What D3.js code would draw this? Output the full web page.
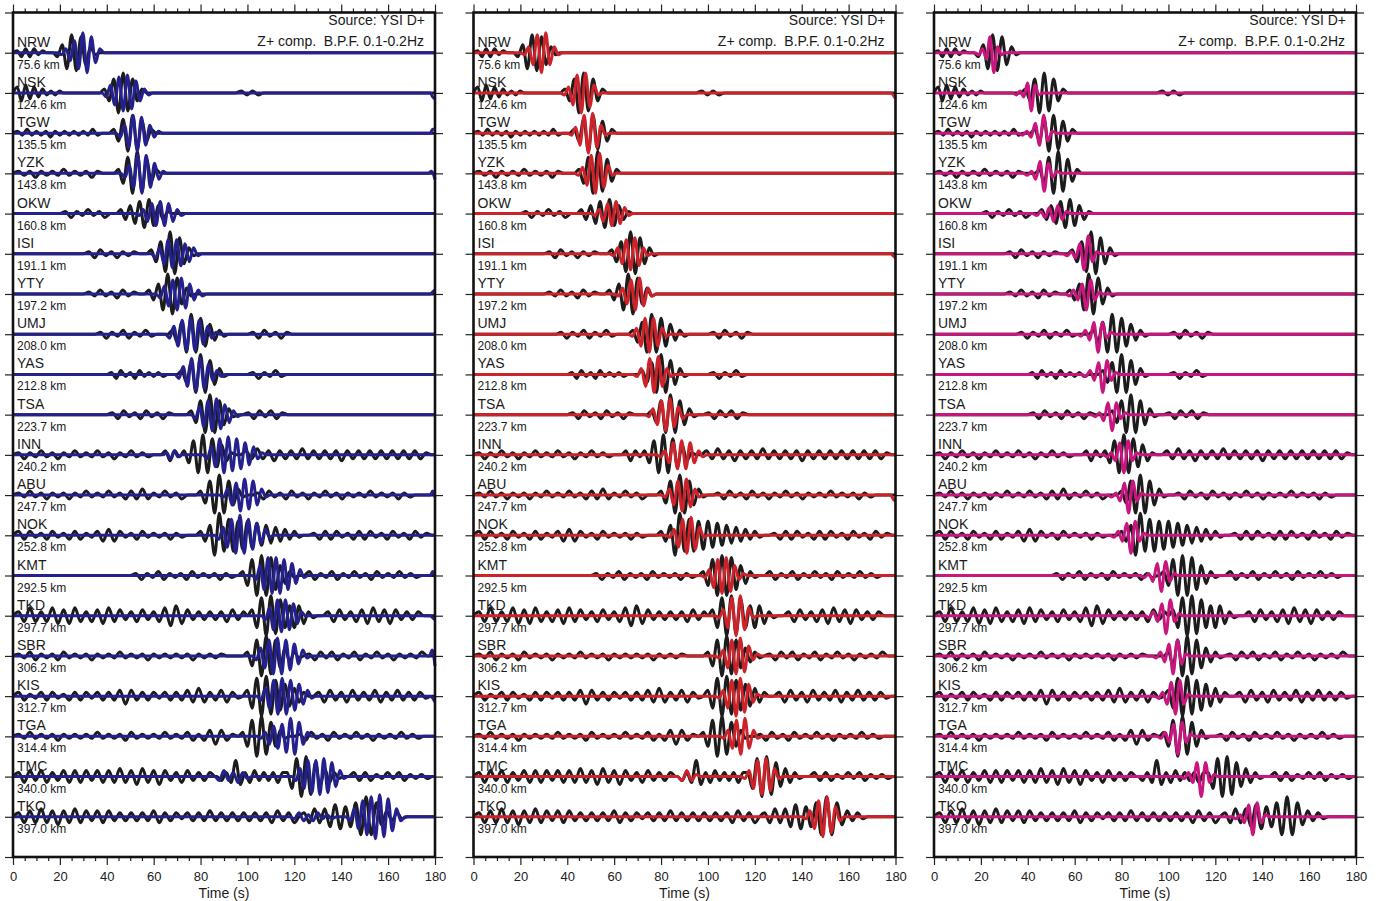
<!DOCTYPE html>
<html>
<head>
<meta charset="utf-8">
<script src="https://cdn.jsdelivr.net/npm/d3@7"></script>
<style>
  body { margin: 0; background: #fff; }
  svg { display: block; font-family: "Liberation Sans", Arial, sans-serif; }
</style>
</head>
<body>
<script>
// stations, top to bottom
const stations = ["NRW","NSK","TGW","YZK","OKW","ISI","YTY","UMJ","YAS","TSA",
                  "INN","ABU","NOK","KMT","TKD","SBR","KIS","TGA","TMC","TKO"]
const distances = [75.6,124.6,135.5,143.8,160.8,191.1,197.2,208.0,212.8,223.7,
                   240.2,247.7,252.8,292.5,297.7,306.2,312.7,314.4,340.0,397.0]

const timeTicks = [0,20,40,60,80,100,120,140,160,180]

// each trace = list of segments [start time (s), half period (s), successive peak amplitudes (x0.1)]
// observed records (black), same in all three panels
const observed = [
  [[0,1.8,[0,1,-2,2,-2,2,-1,1,0]], [17,2,[0,-2,4,-8,9,-9,8,-6,3,-1,0]]],
  [[0,1.8,[0,3,-4,4,-3,3,-2,2,-1,1,-1,1,0]], [37,2,[0,2,-4,7,-10,10,-9,7,-4,2,0]], [95,2.4,[0,1,-1,1,-1,0]]],
  [[0,2,[0,1,-1,2,-1,1,-1,1,-2,1,-1,1,-1,1,-1,1,-1,2,-1,0]], [41,2,[0,2,-4,7,-9,9,-8,6,-4,2,0]]],
  [[0,2.4,[0,1,-1,1,-2,1,-1,1,-1,2,-1,1,-1,1,-2,1,0]], [43,2,[0,2,-5,8,-10,11,-9,7,-4,2,0]]],
  [[20,2.4,[0,1,-2,1,-1,2,-1,1,-2,0]], [44,2,[0,2,-3,4,-5,6,-7,7,-6,4,-3,1,0]]],
  [[30,2.4,[0,1,-2,2,-1,1,-2,1,-1,1,0]], [57,2,[0,2,-4,6,-9,11,-10,8,-5,3,-1,0]]],
  [[30,2.4,[0,1,-1,2,-1,1,-2,2,-1,1,0]], [56,2,[0,2,-3,5,-8,10,-10,8,-5,3,-1,0]]],
  [[35,2.4,[0,1,-2,1,-1,2,-2,1,-1,2,-1,0]], [66,2,[0,2,-4,6,-9,10,-9,8,-6,5,-3,2,-1,0]], [100,2.4,[0,1,-2,2,-1,1,-2,1,0]]],
  [[40,2,[0,1,-2,2,-1,1,-2,2,-1,1,-1,1,-1,0]], [70,2,[0,2,-4,6,-9,10,-9,7,-5,3,-1,0]], [100,2.4,[0,1,-2,1,-1,2,-1,0]]],
  [[40,2.4,[0,1,-2,2,-1,1,-2,2,-1,1,-2,1,0]], [74,2,[0,2,-4,7,-9,10,-9,7,-5,3,-1,0]], [98,2.4,[0,1,-2,2,-1,2,-2,1,0]]],
  [[0,2.4,[0,1,-2,1,-1,2,-1,1,-2,1,-1,2,-1,1,-1,2,-1,1,-2,1,-1,2,-1,1,-1,0]],
   [63,2,[0,2,-3,2,-1,2,-4,7,-9,10,-9,8,-6,5,-3,1,0]],
   [97,2.4,[0,2,-2,3,-2,2,-3,2,-2,2,-2,3,-2,2,-2,2,-2,2,-3,2,-2,2,-2,2,-2,2,-2,2,-2,2,-2,2,-2,1,0]]],
  [[0,2.4,[0,1,-1,2,-1,1,-2,1,-1,1,-2,1,-1,2,-1,1,-1,2,-1,1,-2,2,-2,3,-2,1,-1,2,-1,1,-2,0]],
   [78,2,[0,2,-4,7,-9,10,-9,7,-5,3,-1,0]], [102,2.4,[0,1,-2,2,-1,1,-2,2,-1,1,-2,1,-1,2,-1,1,-2,1,-1,1,-1,2,-1,1,-1,1,-2,1,-1,0]]],
  [[0,2.4,[0,2,-2,2,-1,1,-2,2,-1,1,-2,2,-2,1,-1,2,-3,3,-3,2,-1,1,-2,2,-1,1,-1,1,-2,1,-1,0]],
   [78,2,[0,2,-3,5,-10,11,-8,8,-8,7,-7,7,-6,6,-5,5,-4,4,-3,3,-2,2,-1,0]],
   [126,2.4,[0,1,-2,2,-2,2,-1,1,-2,2,-2,2,-1,1,-2,2,-1,1,-2,2,-1,1,0]]],
  [[50,2.4,[0,1,-2,1,-1,2,-2,1,-1,1,-2,2,-1,1,-1,1,-2,1,-1,0]], [96,2,[0,2,-5,8,-10,10,-10,9,-7,5,-4,2,-1,0]],
   [124,2.4,[0,2,-2,1,-1,2,-2,1,-1,2,-1,1,-2,2,-1,1,-1,2,-1,1,-1,0]]],
  [[0,2.4,[0,2,-3,4,-3,2,-3,4,-4,3,-4,4,-3,2,-3,3,-4,4,-3,3,-2,2,-3,3,-2,2,-3,4,-5,5,-4,3,-2,2,-2,2,-2,2,-3,3,-2,2,0]],
   [100,2,[0,3,-6,9,-10,10,-9,8,-6,5,-6,5,-4,2,-1,0]],
   [132,2.4,[0,2,-3,3,-2,2,-3,3,-4,4,-3,3,-4,3,-2,2,-2,2,0]]],
  [[0,2.4,[0,1,-1,2,-2,1,-1,1,-2,2,-1,1,-1,1,-2,1,-1,1,-1,2,-1,1,-1,1,-2,1,-1,1,-1,1,-1,1,-2,1,-1,1,-1,1,0]],
   [98,2,[0,2,-5,8,-10,10,-9,8,-6,4,-3,2,-1,0]], [124,2.4,[0,1,-2,2,-1,2,-2,1,-1,2,-2,1,-1,2,-1,1,-2,1,-1,1,-1,2,0]]],
  [[0,2.4,[0,2,-2,1,-1,2,-2,2,-1,1,-2,2,-2,2,-1,2,-2,2,-2,3,-4,3,-2,2,-2,2,-1,2,-2,2,-2,3,-3,4,-3,2,-2,3,-3,2,-1,0]],
   [98,2,[0,3,-6,9,-10,10,-9,8,-7,6,-5,4,-3,2,0]],
   [128,2.4,[0,2,-3,3,-2,2,-3,3,-2,2,-2,3,-3,2,-2,3,-2,2,-2,2,-1,0]]],
  [[0,2.4,[0,1,-1,2,-1,1,-1,1,-2,1,-1,1,-1,1,-1,2,-1,1,-1,1,-2,2,-1,1,-1,1,-1,2,-1,1,-1,2,-2,1,-2,3,-4,3,-2,1,0]],
   [96,2,[0,2,-5,8,-10,10,-9,7,-5,3,-1,0]], [120,2.4,[0,1,-2,2,-1,1,-2,2,-1,1,-1,2,-1,1,-2,1,-1,1,-1,2,-1,1,-1,0]]],
  [[0,2.4,[0,2,-3,3,-2,3,-3,2,-2,3,-3,3,-3,3,-2,3,-3,3,-3,4,-3,3,-4,4,-3,3,-4,3,-2,2,-3,3,-2,2,-2,2,0]],
   [87,2,[0,-2,2,-3,8,-4,2,-3,3,-2,2,-2,2,-3,2,0]],
   [117,2,[2,-6,9,-10,10,-9,7,-5,4,-3,2,-1,0]],
   [143,2.4,[0,2,-2,2,-2,1,-1,2,-1,2,-2,1,-1,1,-1,0]]],
  [[0,2.4,[0,2,-3,3,-3,4,-3,3,-4,3,-3,4,-3,3,-2,3,-3,3,-2,2,-2,2,-2,2,-2,3,-3,2,-2,2,-1,2,-2,2,-2,3,-2,2,-2,2,-2,2,-2,2,-2,2,-3,3,-2,2,-3,3,0]],
   [122,2.2,[0,2,-3,4,-3,4,-5,6,-6,5,-5,7,-9,10,-9,7,-4,3,-2,2,-1,0]]]
]

// synthetics, panel 1 (blue)
const synthBlue = [
  [[19,1.8,[0,-1,2,-4,6,-8,10,-10,8,-5,2,0]]],
  [[38,1.8,[0,-2,4,-6,8,-9,9,-8,6,-4,2,-1,0]], [178,1,[0,-2,-3]]],
  [[44,1.8,[0,-2,4,-7,9,-9,8,-6,4,-2,1,0]], [178,1,[0,2,2]]],
  [[46,1.8,[0,-2,4,-7,9,-10,9,-7,5,-3,1,0]], [177,1.5,[0,1,-3]]],
  [[52,1.8,[0,-1,2,-4,5,-6,6,-6,5,-4,2,-1,0]]],
  [[59,1.8,[0,-2,3,-5,7,-7,7,-6,5,-4,3,-1,0]]],
  [[61,1.8,[0,-2,4,-6,7,-8,8,-7,5,-3,2,-1,0]], [178,1,[0,1,2]]],
  [[65,1.8,[0,-2,4,-6,7,-8,8,-8,7,-5,4,-2,1,0]]],
  [[69,1.8,[0,-2,4,-6,8,-8,8,-7,5,-3,2,-1,0]]],
  [[76,1.8,[0,-2,4,-6,7,-8,8,-7,5,-4,2,-1,0]]],
  [[64,1.6,[0,1,-2,2,-1,0]], [81,1.8,[0,-2,4,-6,8,-9,9,-8,8,-7,6,-5,4,-2,1,0]]],
  [[88,1.8,[0,-1,3,-5,6,-8,8,-7,7,-5,3,-1,0]], [178,1,[0,2,-1]]],
  [[86,1.8,[0,-2,4,-6,8,-9,10,-9,8,-7,6,-4,3,-1,0]]],
  [[102,1.7,[0,-2,5,-7,9,-9,9,-9,8,-7,6,-4,3,-1,0]], [178,1,[0,2,1]]],
  [[106,1.7,[0,-2,4,-7,8,-8,8,-7,6,-4,2,0]], [178,1,[0,-1,-2]]],
  [[102,1.8,[0,-2,4,-6,8,-9,9,-9,8,-7,6,-4,3,-1,0]], [177.6,1.2,[0,3,-5]]],
  [[104,1.8,[0,-2,4,-6,8,-9,9,-9,8,-7,6,-4,3,-1,0]], [178,1,[0,-1,-3]]],
  [[104,1.8,[0,-1,2,-4,5,-6,6,-8,9,-9,7,-4,2,0]]],
  [[86,2,[0,-2,3,-2,2,-3,2,-1,0]], [119,1.7,[0,-2,4,-6,8,-8,8,-9,9,-8,7,-5,3,-1,0]]],
  [[118,2,[0,-1,2,-2,1,-2,2,-1,1,-1,0]], [142,1.8,[0,-2,4,-6,8,-9,10,-11,11,-10,9,-7,4,-2,0]]]
]

// synthetics, panel 2 (red)
const synthRed = [
  [[20,1.8,[0,-1,3,-6,9,-10,10,-6,3,-1,0]]],
  [[37,1.8,[0,-1,3,-6,9,-10,10,-7,4,-1,0]], [178,1,[0,-1,-3]]],
  [[40,1.8,[0,-1,3,-6,9,-10,10,-7,4,-1,0]]],
  [[43,1.8,[0,-1,3,-6,9,-10,10,-7,4,-1,0]]],
  [[50,1.8,[0,-1,2,-4,5,-6,6,-5,3,-1,0]]],
  [[58,1.8,[0,-1,3,-5,7,-8,8,-6,3,-1,0]], [178,1,[0,-1,-2]]],
  [[60,1.8,[0,-1,3,-5,7,-8,8,-6,3,-1,0]]],
  [[66,1.8,[0,-1,3,-6,8,-9,8,-6,3,-1,0]]],
  [[68,1.8,[0,-1,3,-6,8,-9,9,-6,3,-1,0]]],
  [[73,1.8,[0,-1,3,-5,7,-8,8,-6,4,-2,0]]],
  [[78,1.8,[0,-1,2,-4,6,-7,7,-7,6,-4,2,-1,0]]],
  [[80,1.8,[0,-1,3,-5,7,-8,8,-6,3,-1,0]], [178,1,[0,-2,-3]]],
  [[82,1.8,[0,-1,3,-6,8,-9,9,-7,4,-1,0]]],
  [[97,1.8,[0,-1,3,-6,8,-9,9,-8,5,-2,1,0]]],
  [[103,1.8,[0,-1,3,-6,9,-10,10,-7,4,-1,0]]],
  [[103,1.8,[0,-1,3,-6,8,-9,9,-8,5,-2,1,0]]],
  [[103,1.8,[0,-1,3,-6,8,-10,9,-8,6,-3,1,0]]],
  [[105,1.8,[0,-1,3,-6,8,-9,9,-6,3,-1,0]]],
  [[87,2,[0,-2,3,-2,1,0]], [114,1.8,[0,-1,3,-6,8,-9,9,-7,4,-1,0]]],
  [[140,1.8,[0,-1,3,-6,8,-10,10,-8,5,-2,0]]]
]

// synthetics, panel 3 (magenta)
const synthMagenta = [
  [[17.5,1.6,[0,-1,2,-3,8,-10,3,-1,0]]],
  [[33.5,1.6,[0,-1,1,-2,5,-9,4,-1,0]]],
  [[36,1.8,[0,-1,1,-2,5,-6,9,-4,1,0]]],
  [[38,1.8,[0,-1,1,-3,6,-9,5,-2,1,0]]],
  [[42,1.8,[0,-1,1,-2,3,-4,4,-3,1,0]]],
  [[55,1.8,[0,-1,1,-2,5,-8,9,-4,1,0]]],
  [[56,1.8,[0,-1,2,-3,5,-8,7,-3,1,0]]],
  [[61,1.8,[0,-1,2,-3,6,-9,6,-2,1,0]]],
  [[63,1.8,[0,-1,2,-3,6,-9,7,-3,1,0]]],
  [[67,1.8,[0,-1,1,-3,6,-8,6,-2,1,0]]],
  [[72,1.8,[0,-1,1,-3,6,-9,7,-3,1,0]]],
  [[74,1.8,[0,-1,1,-3,6,-9,7,-3,1,0]]],
  [[75,1.8,[0,-1,2,-3,6,-9,7,-3,1,0]]],
  [[88,1.8,[0,-1,1,-3,6,-8,7,-3,1,0]]],
  [[90,1.8,[0,-1,2,-3,6,-9,8,-3,1,0]]],
  [[93,1.8,[0,-1,2,-3,6,-9,8,-4,1,0]]],
  [[94,1.8,[0,-1,2,-4,7,-9,8,-4,1,0]]],
  [[95,1.8,[0,-1,2,-3,6,-9,7,-3,1,0]]],
  [[105,1.8,[0,-1,2,-3,7,-10,7,-3,1,0]]],
  [[127,1.8,[0,-1,1,-3,6,-9,7,-3,1,0]]]
]

const panels = [
  {synth: synthBlue, color: "#24218f"},
  {synth: synthRed, color: "#cc2229"},
  {synth: synthMagenta, color: "#c8167e"}
]

// layout
const W = 1382, H = 901
const left0 = 13, panelW = 422, gap = 38.5
const plotTop = 12.5, plotBottom = 857

const svg = d3.select("body").append("svg")
  .attr("width", W)
  .attr("height", H)

// trace index 0 = top frame, 21 = bottom frame
const yIdx = d3.scaleLinear().domain([0, stations.length + 1]).range([plotTop, plotBottom])
const amp = d3.scaleLinear().domain([-10, 10]).range([20, -20])

const tracePoints = segs => {
  const pts = []
  segs.forEach((s, k) => {
    const [t0, hp, amps] = s
    const next = k < segs.length - 1 ? segs[k + 1][0] : Infinity
    amps.forEach((a, i) => {
      const t = t0 + i * hp
      if (t < next && t <= 180) pts.push([t, a])
    })
  })
  if (!pts.length || pts[0][0] > 0) pts.unshift([0, 0])
  if (pts[pts.length - 1][0] < 180) pts.push([180, 0])
  return pts
}

panels.forEach((p, pi) => {
  const x0 = left0 + pi * (panelW + gap)
  const x = d3.scaleLinear().domain([0, 180]).range([x0, x0 + panelW])
  const g = svg.append("g")

  // baseline ticks outside the frame, both sides
  const yTicks = d3.range(0, stations.length + 2)
  g.append("g")
    .attr("transform", `translate(${x0},0)`)
    .call(d3.axisLeft(yIdx).tickValues(yTicks).tickSize(8).tickFormat(""))
    .call(a => a.select(".domain").remove())
  g.append("g")
    .attr("transform", `translate(${x0 + panelW},0)`)
    .call(d3.axisRight(yIdx).tickValues(yTicks).tickSize(8).tickFormat(""))
    .call(a => a.select(".domain").remove())

  // time ticks, minor every 5 s
  const minor = d3.range(0, 181, 5).filter(t => t % 20)
  const xb = g.append("g").attr("transform", `translate(0,${plotBottom})`)
  xb.call(d3.axisBottom(x).tickValues(timeTicks).tickSize(8).tickPadding(7))
    .call(a => a.select(".domain").remove())
  xb.append("g").call(d3.axisBottom(x).tickValues(minor).tickSize(4).tickFormat(""))
    .call(a => a.select(".domain").remove())
  xb.selectAll("text")
    .attr("font-size", 13)
    .attr("font-family", "Liberation Sans, Arial, sans-serif")
    .attr("fill", "#222")

  const xt = g.append("g").attr("transform", `translate(0,${plotTop})`)
  xt.call(d3.axisTop(x).tickValues(timeTicks).tickSize(8).tickFormat(""))
    .call(a => a.select(".domain").remove())
  xt.append("g").call(d3.axisTop(x).tickValues(minor).tickSize(4).tickFormat(""))
    .call(a => a.select(".domain").remove())
  g.selectAll(".tick line").attr("stroke", "#222").attr("stroke-width", 1.2)

  const line = d3.line()
    .x(d => x(d[0]))
    .curve(d3.curveMonotoneX)

  // observed records
  observed.forEach((segs, i) => {
    const yb = yIdx(i + 1)
    g.append("path")
      .attr("d", line.y(d => yb + amp(d[1]))(tracePoints(segs)))
      .attr("fill", "none")
      .attr("stroke", "#1c1c1c")
      .attr("stroke-width", 3)
      .attr("stroke-linejoin", "round")
  })

  // synthetics
  p.synth.forEach((segs, i) => {
    const yb = yIdx(i + 1)
    g.append("path")
      .attr("d", line.y(d => yb + amp(d[1]))(tracePoints(segs)))
      .attr("fill", "none")
      .attr("stroke", p.color)
      .attr("stroke-width", 3)
      .attr("stroke-linejoin", "round")
  })

  // frame
  g.append("rect")
    .attr("x", x0)
    .attr("y", plotTop)
    .attr("width", panelW)
    .attr("height", plotBottom - plotTop)
    .attr("fill", "none")
    .attr("stroke", "#111")
    .attr("stroke-width", 2.6)

  // station labels
  stations.forEach((s, i) => {
    const yb = yIdx(i + 1)
    g.append("text")
      .attr("x", x0 + 4)
      .attr("y", yb - 6)
      .attr("font-size", 14)
      .attr("fill", "#1a1a1a")
      .text(s)
    g.append("text")
      .attr("x", x0 + 4)
      .attr("y", yb + 16)
      .attr("font-size", 12)
      .attr("fill", "#1a1a1a")
      .text(distances[i].toFixed(1) + " km")
  })

  g.append("text")
    .attr("x", x0 + panelW - 10)
    .attr("y", 25)
    .attr("text-anchor", "end")
    .attr("font-size", 14)
    .attr("fill", "#1a1a1a")
    .text("Source: YSI D+")
  g.append("text")
    .attr("x", x0 + panelW - 11)
    .attr("y", 46)
    .attr("text-anchor", "end")
    .attr("font-size", 14)
    .attr("fill", "#1a1a1a")
    .style("white-space", "pre")
    .text("Z+ comp.  B.P.F. 0.1-0.2Hz")

  g.append("text")
    .attr("x", x0 + panelW / 2)
    .attr("y", 898)
    .attr("text-anchor", "middle")
    .attr("font-size", 14)
    .attr("fill", "#1a1a1a")
    .text("Time (s)")
})
</script>
</body>
</html>
